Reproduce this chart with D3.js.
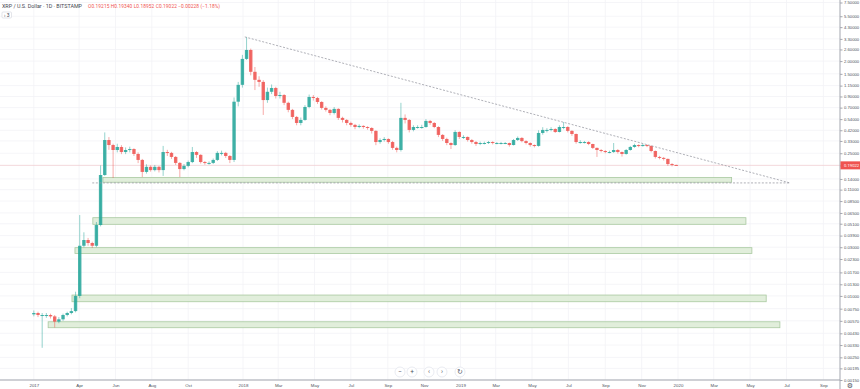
<!DOCTYPE html>
<html>
<head>
<meta charset="utf-8">
<script src="https://cdn.jsdelivr.net/npm/d3@7"></script>
<style>
html, body { margin: 0; padding: 0; background: #fff; }
svg { display: block; font-family: Roboto, "Trebuchet MS", sans-serif; }
</style>
</head>
<body>
<div id="chart"></div>
<script>
var width = 860, height = 389;
var plotRight = 840, plotBottom = 380;

// weekly candles, first one centred on this day, open of the first one
var firstDay = "2017-01-15";
var firstOpen = 0.0066;

var closes = [
	0.0068,0.0065,0.0065,0.0065,0.0063,0.0056,0.0059,0.0065,0.0068,0.0071,
	0.0100,0.031,0.0353,0.033,0.031,0.0495,0.153,0.337,0.301,0.269,
	0.288,0.257,0.269,0.275,0.246,0.215,0.164,0.184,0.171,0.184,
	0.171,0.257,0.252,0.230,0.201,0.175,0.188,0.205,0.257,0.241,
	0.205,0.201,0.201,0.215,0.252,0.252,0.235,0.215,0.80,1.17,
	2.10,2.57,1.57,1.31,1.25,0.83,1.00,1.09,0.91,0.93,
	0.78,0.665,0.567,0.495,0.53,0.71,0.89,0.87,0.795,0.695,
	0.665,0.62,0.68,0.555,0.53,0.495,0.474,0.452,0.463,0.452,
	0.442,0.414,0.322,0.337,0.345,0.322,0.282,0.269,0.555,0.53,
	0.423,0.452,0.452,0.452,0.518,0.495,0.452,0.378,0.345,0.315,
	0.301,0.404,0.361,0.361,0.337,0.322,0.308,0.315,0.315,0.322,
	0.315,0.315,0.315,0.315,0.301,0.337,0.353,0.329,0.315,0.301,
	0.295,0.395,0.423,0.423,0.432,0.404,0.452,0.452,0.414,0.386,
	0.322,0.322,0.322,0.308,0.282,0.269,0.263,0.257,0.257,0.269,
	0.257,0.246,0.269,0.288,0.301,0.295,0.301,0.295,0.263,0.230,
	0.225,0.220,0.196,0.192,0.19022
];
var highs = [
	0.0072,0.0070,0.0068,0.0068,0.0067,0.0065,0.0062,0.0067,0.0070,0.0076,
	0.0110,0.0620,0.0420,0.037,0.034,0.053,0.19,0.40,0.36,0.31,
	0.31,0.30,0.285,0.29,0.28,0.255,0.220,0.195,0.190,0.192,
	0.188,0.295,0.27,0.258,0.235,0.205,0.196,0.212,0.288,0.262,
	0.245,0.210,0.208,0.222,0.262,0.265,0.258,0.240,0.88,1.25,
	2.30,3.45,2.65,1.75,1.42,1.30,1.10,1.18,1.12,1.00,
	0.95,0.80,0.68,0.58,0.56,0.74,0.94,0.93,0.89,0.81,
	0.72,0.68,0.71,0.69,0.57,0.54,0.51,0.485,0.48,0.47,
	0.46,0.45,0.42,0.35,0.36,0.35,0.33,0.29,0.78,0.60,
	0.54,0.47,0.47,0.475,0.54,0.53,0.505,0.46,0.385,0.355,
	0.32,0.42,0.41,0.375,0.365,0.345,0.33,0.325,0.325,0.33,
	0.328,0.322,0.323,0.322,0.318,0.345,0.365,0.36,0.335,0.32,
	0.305,0.42,0.45,0.44,0.45,0.44,0.47,0.506,0.46,0.42,
	0.39,0.335,0.33,0.328,0.31,0.285,0.275,0.268,0.265,0.315,
	0.275,0.26,0.275,0.295,0.31,0.306,0.31,0.305,0.298,0.266,
	0.236,0.230,0.222,0.200,0.1934
];
var lows = [
	0.0063,0.0062,0.0031,0.0061,0.0060,0.0049,0.0054,0.0057,0.0063,0.0066,
	0.0069,0.0095,0.0300,0.031,0.0295,0.030,0.048,0.15,0.27,0.143,
	0.255,0.245,0.245,0.255,0.235,0.200,0.146,0.158,0.165,0.166,
	0.162,0.150,0.235,0.220,0.192,0.146,0.170,0.182,0.200,0.225,
	0.198,0.193,0.193,0.196,0.210,0.238,0.225,0.200,0.205,0.72,
	1.10,2.05,1.45,1.04,1.12,0.593,0.78,0.95,0.86,0.86,
	0.74,0.63,0.54,0.47,0.47,0.52,0.69,0.82,0.76,0.67,
	0.64,0.59,0.60,0.53,0.50,0.47,0.455,0.43,0.44,0.435,
	0.425,0.39,0.30,0.31,0.325,0.31,0.27,0.255,0.26,0.49,
	0.40,0.41,0.435,0.435,0.445,0.475,0.44,0.36,0.33,0.30,
	0.275,0.295,0.345,0.345,0.325,0.31,0.295,0.30,0.305,0.308,
	0.305,0.306,0.305,0.307,0.29,0.298,0.33,0.32,0.305,0.29,
	0.285,0.29,0.38,0.40,0.41,0.395,0.40,0.43,0.40,0.37,
	0.31,0.31,0.312,0.30,0.275,0.230,0.255,0.25,0.25,0.252,
	0.248,0.232,0.242,0.265,0.283,0.286,0.29,0.287,0.255,0.222,
	0.218,0.212,0.188,0.186,0.18952
];

var priceTicks = [7.5,5.5,4.3,3.3,2.6,2.0,1.5,1.15,0.9,0.7,0.54,0.42,0.33,0.25,0.19,0.14,0.11,
	0.085,0.065,0.051,0.039,0.030,0.023,0.017,0.013,0.010,0.0075,0.0057,0.0043,0.0033,0.0025,0.00195,0.0015];
var timeTicks = ["2017-01-15","2017-04-01","2017-06-01","2017-08-01","2017-10-01","2018-01-01","2018-03-01",
	"2018-05-01","2018-07-01","2018-09-01","2018-11-01","2019-01-01","2019-03-01","2019-05-01","2019-07-01",
	"2019-09-01","2019-11-01","2020-01-01","2020-03-01","2020-05-01","2020-07-01","2020-09-01"];
var timeLabels = ["2017","Apr","Jun","Aug","Oct","2018","Mar","May","Jul","Sep","Nov",
	"2019","Mar","May","Jul","Sep","Nov","2020","Mar","May","Jul","Sep"];

// support zones drawn on the chart
var zoneFrom = ["2017-05-11","2017-04-24","2017-03-25","2017-03-20","2017-02-08"];
var zoneTo = ["2020-03-31","2020-04-24","2020-05-04","2020-05-28","2020-06-20"];
var zoneHigh = [0.145,0.0584,0.0297,0.0102,0.00558];
var zoneLow = [0.130,0.0503,0.0261,0.00877,0.00488];

// triangle: falling trend line and flat base
var trendDates = ["2018-01-04","2020-07-07"];
var trendPrices = [3.45,0.128];
var baseDates = ["2017-04-23","2020-07-07"];
var basePrices = [0.128,0.128];

var lastPrice = 0.19022;

var up = "#26a69a", down = "#ef5350";

var x = d3.scaleUtc()
	.domain([new Date("2017-01-01"), new Date("2020-01-01")])
	.range([25.5, 678]);
var y = d3.scaleLog()
	.domain([0.0015, 7.5])
	.range([plotBottom, 2.5]);

var svg = d3.select("#chart").append("svg")
	.attr("width", width).attr("height", height);

// grid
svg.append("g").selectAll("line").data(priceTicks).enter().append("line")
	.attr("x1", 0).attr("x2", plotRight)
	.attr("y1", function(d){ return y(d); }).attr("y2", function(d){ return y(d); })
	.attr("stroke", "#f2f3f6").attr("stroke-width", 0.8);
svg.append("g").selectAll("line").data(timeTicks).enter().append("line")
	.attr("x1", function(d){ return x(new Date(d)); }).attr("x2", function(d){ return x(new Date(d)); })
	.attr("y1", 0).attr("y2", plotBottom)
	.attr("stroke", "#f2f3f6").attr("stroke-width", 0.8);

// zones
svg.append("g").selectAll("rect").data(zoneFrom).enter().append("rect")
	.attr("x", function(d){ return x(new Date(d)); })
	.attr("width", function(d, i){ return x(new Date(zoneTo[i])) - x(new Date(d)); })
	.attr("y", function(d, i){ return y(zoneHigh[i]); })
	.attr("height", function(d, i){ return y(zoneLow[i]) - y(zoneHigh[i]); })
	.attr("fill", "#dcebd5").attr("fill-opacity", 0.85)
	.attr("stroke", "#a9c9a0").attr("stroke-width", 0.8);

// last price line
svg.append("line")
	.attr("x1", 0).attr("x2", plotRight)
	.attr("y1", y(lastPrice)).attr("y2", y(lastPrice))
	.attr("stroke", down).attr("stroke-opacity", 0.22).attr("stroke-width", 0.8);

// candles
var start = new Date(firstDay);
var candles = closes.map(function(c, i){
	return { date: d3.utcDay.offset(start, 7 * i), o: i ? closes[i - 1] : firstOpen, h: highs[i], l: lows[i], c: c };
});
var bw = 3.4;
var cg = svg.append("g");
cg.selectAll("line").data(candles).enter().append("line")
	.attr("x1", function(d){ return x(d.date); }).attr("x2", function(d){ return x(d.date); })
	.attr("y1", function(d){ return y(d.h); }).attr("y2", function(d){ return y(d.l); })
	.attr("stroke", function(d){ return d.c >= d.o ? up : down; })
	.attr("stroke-opacity", 0.7)
	.attr("stroke-width", 0.7);
cg.selectAll("rect").data(candles).enter().append("rect")
	.attr("x", function(d){ return x(d.date) - bw / 2; })
	.attr("width", bw)
	.attr("y", function(d){ return y(Math.max(d.o, d.c)); })
	.attr("height", function(d){ return Math.max(1, Math.abs(y(d.o) - y(d.c))); })
	.attr("fill", function(d){ return d.c >= d.o ? up : down; })
	.attr("fill-opacity", 0.85);

// triangle lines
var lineGen = d3.line().x(function(d){ return x(new Date(d[0])); }).y(function(d){ return y(d[1]); });
svg.append("path")
	.attr("d", lineGen(trendDates.map(function(d, i){ return [d, trendPrices[i]]; })))
	.attr("fill", "none").attr("stroke", "#9a9ca4").attr("stroke-width", 0.8).attr("stroke-dasharray", "2,1.6");
svg.append("path")
	.attr("d", lineGen(baseDates.map(function(d, i){ return [d, basePrices[i]]; })))
	.attr("fill", "none").attr("stroke", "#9a9ca4").attr("stroke-width", 0.8).attr("stroke-dasharray", "2,1.6");

// right price axis
var yAxis = svg.append("g")
	.attr("transform", "translate(" + plotRight + ",0)")
	.call(d3.axisRight(y).tickValues(priceTicks).tickFormat(d3.format(".5f")).tickSize(2.5).tickPadding(1.5));
yAxis.select(".domain").attr("stroke", "#a3a6af").attr("d", "M0,0V" + height);
yAxis.selectAll(".tick line").attr("stroke", "#a3a6af");
yAxis.selectAll("text").attr("fill", "#50535e").style("font-size", "4.2px");

// bottom time axis
var xAxis = svg.append("g")
	.attr("transform", "translate(0," + plotBottom + ")")
	.call(d3.axisBottom(x).tickValues(timeTicks.map(function(d){ return new Date(d); }))
		.tickFormat(function(d, i){ return timeLabels[i]; }).tickSize(0).tickPadding(4));
xAxis.select(".domain").attr("stroke", "#a3a6af").attr("d", "M0,0H" + plotRight);
xAxis.selectAll("text").attr("fill", "#50535e").style("font-size", "4.4px");

// last price label
var lp = svg.append("g").attr("transform", "translate(" + plotRight + "," + y(lastPrice) + ")");
lp.append("rect").attr("x", 0.5).attr("y", -4).attr("width", 19.5).attr("height", 8).attr("fill", down);
lp.append("text").attr("x", 4).attr("y", 1.5).attr("fill", "#fff").style("font-size", "4.2px").text(d3.format(".5f")(lastPrice));

// header
svg.append("text").attr("x", 2).attr("y", 7.8).attr("fill", "#434651").style("font-size", "5.4px")
	.attr("textLength", 80).attr("lengthAdjust", "spacing")
	.text("XRP / U.S. Dollar \u00b7 1D \u00b7 BITSTAMP");
svg.append("text").attr("x", 88).attr("y", 7.8).attr("fill", down).style("font-size", "4.8px")
	.attr("textLength", 132).attr("lengthAdjust", "spacing")
	.text("O0.19215 H0.19340 L0.18952 C0.19022 \u22120.00228 (\u22121.18%)");
svg.append("rect").attr("x", 2).attr("y", 12).attr("width", 9.5).attr("height", 6)
	.attr("fill", "#fff").attr("stroke", "#d1d4dc").attr("stroke-width", 0.6).attr("rx", 1);
svg.append("text").attr("x", 4).attr("y", 16.6).attr("fill", "#434651").style("font-size", "5px").text("\u203a 3");

// bottom toolbar
var tools = ["\u2212", "+", "\u2039", "\u203a", "\u21bb"];
var toolX = [400, 412, 429, 442, 460];
var tb = svg.append("g").selectAll("g").data(tools).enter().append("g")
	.attr("transform", function(d, i){ return "translate(" + toolX[i] + ",372)"; });
tb.append("circle").attr("r", 5).attr("fill", "#fff").attr("stroke", "#e0e3eb").attr("stroke-width", 0.7);
tb.append("text").attr("text-anchor", "middle").attr("y", 2.2).attr("fill", "#50535e")
	.style("font-size", "6.5px").text(function(d){ return d; });

// settings icon
svg.append("text").attr("x", 850).attr("y", 387.5).attr("text-anchor", "middle")
	.attr("fill", "#50535e").style("font-size", "7px").style("font-family", "DejaVu Sans").text("\u2699");
</script>
</body>
</html>
